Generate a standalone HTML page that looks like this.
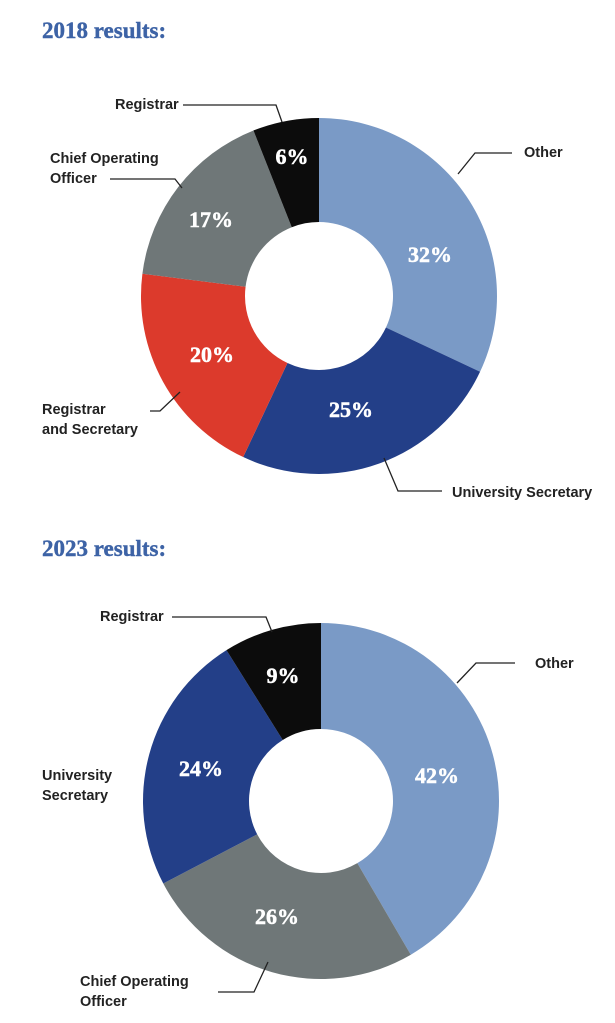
<!DOCTYPE html>
<html><head><meta charset="utf-8"><style>
body{margin:0;background:#fff;width:615px;height:1023px;overflow:hidden}
svg{display:block}
.t{font-family:"Liberation Serif",serif;font-weight:bold;font-size:23px;fill:#3d63a6;stroke:#3d63a6;stroke-width:0.4}
.l{font-family:"Liberation Sans",sans-serif;font-weight:bold;font-size:14.5px;fill:#222}
.p{font-family:"Liberation Serif",serif;font-weight:bold;font-size:22px;fill:#fff;stroke:#fff;stroke-width:0.5;text-anchor:middle}
.ln{fill:none;stroke:#222;stroke-width:1.3}
</style></head><body>
<svg id="s" width="615" height="1023" xmlns="http://www.w3.org/2000/svg">
<text class="t" x="42" y="38">2018 results:</text>
<text class="t" x="42" y="556">2023 results:</text>
<g id="c1"></g><g id="c2"></g>
<text class="p" x="430" y="262">32%</text>
<text class="p" x="351" y="417">25%</text>
<text class="p" x="212" y="362">20%</text>
<text class="p" x="211" y="227">17%</text>
<text class="p" x="292" y="164">6%</text>
<text class="p" x="437" y="783">42%</text>
<text class="p" x="277" y="924">26%</text>
<text class="p" x="201" y="776">24%</text>
<text class="p" x="283" y="683">9%</text>
<text class="l" x="115" y="109">Registrar</text>
<polyline class="ln" points="183,105 276,105 282,122"/>
<text class="l" x="50" y="163">Chief Operating</text>
<text class="l" x="50" y="183">Officer</text>
<polyline class="ln" points="110,179 175,179 182,188"/>
<text class="l" x="524" y="157">Other</text>
<polyline class="ln" points="458,174 475,153 512,153"/>
<text class="l" x="42" y="414">Registrar</text>
<text class="l" x="42" y="434">and  Secretary</text>
<polyline class="ln" points="150,411 160,411 180,392"/>
<text class="l" x="452" y="497">University Secretary</text>
<polyline class="ln" points="384,458 398,491 442,491"/>
<text class="l" x="100" y="621">Registrar</text>
<polyline class="ln" points="172,617 266,617 272,632"/>
<text class="l" x="535" y="668">Other</text>
<polyline class="ln" points="457,683 476,663 515,663"/>
<text class="l" x="42" y="780">University</text>
<text class="l" x="42" y="800">Secretary</text>
<text class="l" x="80" y="986">Chief Operating</text>
<text class="l" x="80" y="1006">Officer</text>
<polyline class="ln" points="218,992 254,992 268,962"/>
</svg>
<script>
function donut(id,cx,cy,R,r,vals,cols){
  var tot=vals.reduce(function(a,b){return a+b},0),a=-Math.PI/2,h='';
  vals.forEach(function(v,i){
    var b=a+v/tot*2*Math.PI,lg=(b-a)>Math.PI?1:0;
    function P(rr,t){return (cx+rr*Math.cos(t)).toFixed(2)+','+(cy+rr*Math.sin(t)).toFixed(2)}
    h+='<path fill="'+cols[i]+'" d="M'+P(R,a)+' A'+R+','+R+' 0 '+lg+' 1 '+P(R,b)+' L'+P(r,b)+' A'+r+','+r+' 0 '+lg+' 0 '+P(r,a)+' Z"/>';
    a=b;
  });
  document.getElementById(id).innerHTML=h;
}
donut('c1',319,296,178,74,[32,25,20,17,6],['#7a9ac6','#233f88','#dc3a2c','#6f7778','#0c0c0c']);
donut('c2',321,801,178,72,[42,26,24,9],['#7a9ac6','#6f7778','#233f88','#0c0c0c']);
</script>
</body></html>
